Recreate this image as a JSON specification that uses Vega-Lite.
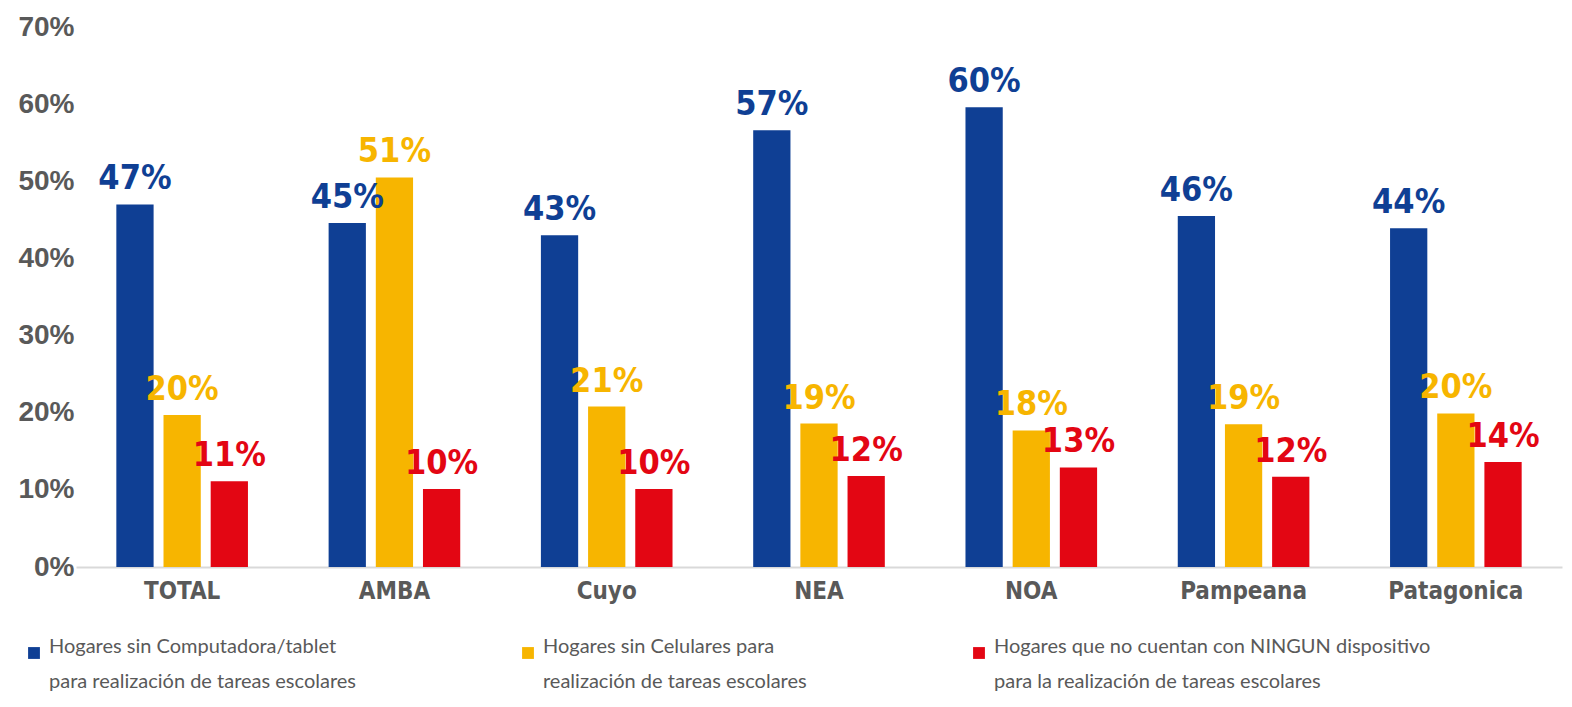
{
  "$schema": "https://vega.github.io/schema/vega-lite/v6.json",
  "width": 1486,
  "height": 540,
  "autosize": "none",
  "padding": {"left": 76, "top": 27, "right": 10, "bottom": 140},
  "background": "white",
  "config": {
    "view": {"stroke": null},
    "legend": {"symbolType": "square"},
    "style": {"guide-label": {"lineHeight": 35}}
  },
  "data": {
    "values": [
      {"region": "TOTAL", "serie": "Hogares sin Computadora/tablet|para realización de tareas escolares", "value": 0.470},
      {"region": "TOTAL", "serie": "Hogares sin Celulares para|realización de tareas escolares", "value": 0.197},
      {"region": "TOTAL", "serie": "Hogares que no cuentan con NINGUN dispositivo|para la realización de tareas escolares", "value": 0.111},
      {"region": "AMBA", "serie": "Hogares sin Computadora/tablet|para realización de tareas escolares", "value": 0.446},
      {"region": "AMBA", "serie": "Hogares sin Celulares para|realización de tareas escolares", "value": 0.505},
      {"region": "AMBA", "serie": "Hogares que no cuentan con NINGUN dispositivo|para la realización de tareas escolares", "value": 0.101},
      {"region": "Cuyo", "serie": "Hogares sin Computadora/tablet|para realización de tareas escolares", "value": 0.430},
      {"region": "Cuyo", "serie": "Hogares sin Celulares para|realización de tareas escolares", "value": 0.208},
      {"region": "Cuyo", "serie": "Hogares que no cuentan con NINGUN dispositivo|para la realización de tareas escolares", "value": 0.101},
      {"region": "NEA", "serie": "Hogares sin Computadora/tablet|para realización de tareas escolares", "value": 0.566},
      {"region": "NEA", "serie": "Hogares sin Celulares para|realización de tareas escolares", "value": 0.186},
      {"region": "NEA", "serie": "Hogares que no cuentan con NINGUN dispositivo|para la realización de tareas escolares", "value": 0.118},
      {"region": "NOA", "serie": "Hogares sin Computadora/tablet|para realización de tareas escolares", "value": 0.596},
      {"region": "NOA", "serie": "Hogares sin Celulares para|realización de tareas escolares", "value": 0.177},
      {"region": "NOA", "serie": "Hogares que no cuentan con NINGUN dispositivo|para la realización de tareas escolares", "value": 0.129},
      {"region": "Pampeana", "serie": "Hogares sin Computadora/tablet|para realización de tareas escolares", "value": 0.455},
      {"region": "Pampeana", "serie": "Hogares sin Celulares para|realización de tareas escolares", "value": 0.185},
      {"region": "Pampeana", "serie": "Hogares que no cuentan con NINGUN dispositivo|para la realización de tareas escolares", "value": 0.117},
      {"region": "Patagonica", "serie": "Hogares sin Computadora/tablet|para realización de tareas escolares", "value": 0.439},
      {"region": "Patagonica", "serie": "Hogares sin Celulares para|realización de tareas escolares", "value": 0.199},
      {"region": "Patagonica", "serie": "Hogares que no cuentan con NINGUN dispositivo|para la realización de tareas escolares", "value": 0.136}
    ]
  },
  "encoding": {
    "x": {
      "field": "region", "type": "nominal", "sort": null,
      "scale": {"paddingInner": 0.38, "paddingOuter": 0.19},
      "axis": {
        "title": null, "labelAngle": 0, "ticks": false,
        "domainColor": "#D9D9D9", "domainWidth": 2,
        "labelFont": "DejaVu Sans Condensed, Roboto, sans-serif", "labelFontWeight": "bold",
        "labelFontSize": 24, "labelColor": "#595959", "labelPadding": 12
      }
    },
    "xOffset": {
      "field": "serie", "type": "nominal", "sort": null,
      "scale": {"paddingInner": 0.21, "paddingOuter": 0}
    },
    "y": {
      "field": "value", "type": "quantitative",
      "scale": {"domain": [0, 0.7]},
      "axis": {
        "title": null, "format": ".0%", "values": [0, 0.1, 0.2, 0.3, 0.4, 0.5, 0.6, 0.7],
        "grid": false, "domain": false, "ticks": false,
        "labelFont": "Liberation Sans", "labelFontWeight": "bold",
        "labelFontSize": 28, "labelColor": "#595959", "labelPadding": 2
      }
    },
    "color": {
      "field": "serie", "type": "nominal", "sort": null,
      "scale": {
        "domain": [
          "Hogares sin Computadora/tablet|para realización de tareas escolares",
          "Hogares sin Celulares para|realización de tareas escolares",
          "Hogares que no cuentan con NINGUN dispositivo|para la realización de tareas escolares"
        ],
        "range": ["#0F3F94", "#F7B500", "#E30613"]
      },
      "legend": {
        "title": null, "orient": "none", "legendX": -52, "legendY": 616,
        "direction": "horizontal", "columns": 3, "gridAlign": "each",
        "columnPadding": 162,
        "labelExpr": "split(datum.label, '|')",
        "labelBaseline": "alphabetic",
        "labelFont": "Lato", "labelFontSize": 20,
        "labelColor": "#595959", "labelLimit": 700, "labelOffset": 5,
        "symbolSize": 140, "symbolStrokeWidth": 0
      }
    }
  },
  "layer": [
    {"mark": {"type": "bar"}},
    {
      "mark": {
        "type": "text", "baseline": "bottom", "dy": -8,
        "font": "DejaVu Sans Condensed, Roboto, sans-serif", "fontWeight": "bold", "fontSize": 34
      },
      "encoding": {
        "text": {"field": "value", "type": "quantitative", "format": ".0%"}
      }
    }
  ]
}
